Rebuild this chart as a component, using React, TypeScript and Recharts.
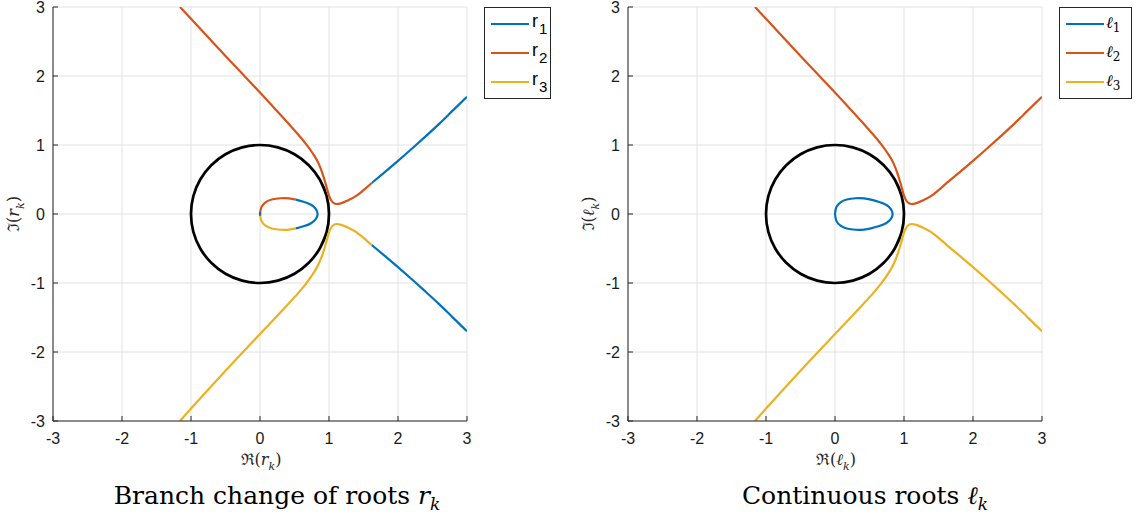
import React from 'react';
import { LineChart, Line, XAxis, YAxis, CartesianGrid } from 'recharts';

type P = { x: number; y: number };

const axisTicks = [-3, -2, -1, 0, 1, 2, 3];

// upper outer branch, left of the branch-change point
const upperArm: P[] = [
  { x: -1.16, y: 3.0 }, { x: -1.0, y: 2.83 }, { x: -0.5, y: 2.29 }, { x: 0, y: 1.76 },
  { x: 0.2, y: 1.545 }, { x: 0.4, y: 1.325 }, { x: 0.55, y: 1.155 }, { x: 0.67, y: 1.01 },
  { x: 0.77, y: 0.87 }, { x: 0.85, y: 0.73 }, { x: 0.91, y: 0.575 }, { x: 0.96, y: 0.41 },
  { x: 0.995, y: 0.28 }, { x: 1.03, y: 0.2 }, { x: 1.07, y: 0.158 }, { x: 1.11, y: 0.145 },
  { x: 1.18, y: 0.158 }, { x: 1.28, y: 0.2 }, { x: 1.4, y: 0.265 }, { x: 1.5, y: 0.345 },
  { x: 1.62, y: 0.45 },
];
// upper outer branch, right of the branch-change point
const upperTail: P[] = [
  { x: 1.62, y: 0.45 }, { x: 1.8, y: 0.6 }, { x: 2.0, y: 0.77 }, { x: 2.2, y: 0.945 },
  { x: 2.4, y: 1.125 }, { x: 2.6, y: 1.31 }, { x: 2.8, y: 1.505 }, { x: 3.0, y: 1.7 },
];
const lowerArm: P[] = [
  { x: -1.16, y: -3.0 }, { x: -1.0, y: -2.82 }, { x: -0.5, y: -2.27 }, { x: 0, y: -1.74 },
  { x: 0.2, y: -1.53 }, { x: 0.4, y: -1.315 }, { x: 0.55, y: -1.15 }, { x: 0.67, y: -1.005 },
  { x: 0.77, y: -0.865 }, { x: 0.85, y: -0.725 }, { x: 0.91, y: -0.575 }, { x: 0.96, y: -0.41 },
  { x: 0.995, y: -0.28 }, { x: 1.03, y: -0.2 }, { x: 1.07, y: -0.158 }, { x: 1.11, y: -0.145 },
  { x: 1.18, y: -0.158 }, { x: 1.28, y: -0.2 }, { x: 1.4, y: -0.265 }, { x: 1.5, y: -0.345 },
  { x: 1.62, y: -0.45 },
];
const lowerTail: P[] = [
  { x: 1.62, y: -0.45 }, { x: 1.8, y: -0.6 }, { x: 2.0, y: -0.77 }, { x: 2.2, y: -0.945 },
  { x: 2.4, y: -1.125 }, { x: 2.6, y: -1.31 }, { x: 2.8, y: -1.505 }, { x: 3.0, y: -1.7 },
];
// inner loop pieces
const loopTop: P[] = [
  { x: 0, y: 0 }, { x: 0.02, y: 0.1 }, { x: 0.08, y: 0.17 }, { x: 0.17, y: 0.21 },
  { x: 0.3, y: 0.228 }, { x: 0.42, y: 0.226 }, { x: 0.52, y: 0.208 },
];
const loopTip: P[] = [
  { x: 0.52, y: 0.208 }, { x: 0.63, y: 0.178 }, { x: 0.74, y: 0.133 }, { x: 0.81, y: 0.07 },
  { x: 0.835, y: 0 }, { x: 0.81, y: -0.07 }, { x: 0.74, y: -0.133 }, { x: 0.63, y: -0.178 },
  { x: 0.52, y: -0.208 },
];
const loopBottom: P[] = [
  { x: 0.52, y: -0.208 }, { x: 0.42, y: -0.226 }, { x: 0.3, y: -0.228 }, { x: 0.17, y: -0.21 },
  { x: 0.08, y: -0.17 }, { x: 0.02, y: -0.1 }, { x: 0, y: 0 },
];
const originBit: P[] = [{ x: 0.004, y: 0.025 }, { x: 0, y: 0 }, { x: 0.004, y: -0.025 }];

// unit circle, read at 15 degree steps (slightly overlapped)
const unitCircle: P[] = [
  { x: 0.866, y: -0.5 }, { x: 0.966, y: -0.259 }, { x: 1, y: 0 }, { x: 0.966, y: 0.259 },
  { x: 0.866, y: 0.5 }, { x: 0.707, y: 0.707 }, { x: 0.5, y: 0.866 }, { x: 0.259, y: 0.966 },
  { x: 0, y: 1 }, { x: -0.259, y: 0.966 }, { x: -0.5, y: 0.866 }, { x: -0.707, y: 0.707 },
  { x: -0.866, y: 0.5 }, { x: -0.966, y: 0.259 }, { x: -1, y: 0 }, { x: -0.966, y: -0.259 },
  { x: -0.866, y: -0.5 }, { x: -0.707, y: -0.707 }, { x: -0.5, y: -0.866 }, { x: -0.259, y: -0.966 },
  { x: 0, y: -1 }, { x: 0.259, y: -0.966 }, { x: 0.5, y: -0.866 }, { x: 0.707, y: -0.707 },
  { x: 0.866, y: -0.5 }, { x: 0.966, y: -0.259 }, { x: 1, y: 0 }, { x: 0.966, y: 0.259 },
  { x: 0.866, y: 0.5 },
];

const BLUE = '#0072BD';
const ORANGE = '#D95319';
const YELLOW = '#EDB120';
const AXIS = '#262626';
const SANS = '"Liberation Sans", Arial, Helvetica, sans-serif';
const SERIF = '"DejaVu Serif", "Liberation Serif", serif';

type Seg = { data: P[]; color: string; curve: 'monotone' | 'natural' };

const leftSegs: Seg[] = [
  { data: upperArm, color: ORANGE, curve: 'monotone' },
  { data: lowerArm, color: YELLOW, curve: 'monotone' },
  { data: upperTail, color: BLUE, curve: 'monotone' },
  { data: lowerTail, color: BLUE, curve: 'monotone' },
  { data: loopTop, color: ORANGE, curve: 'natural' },
  { data: loopBottom, color: YELLOW, curve: 'natural' },
  { data: loopTip, color: BLUE, curve: 'natural' },
  { data: originBit, color: BLUE, curve: 'natural' },
];

const rightSegs: Seg[] = [
  { data: [...loopTop, ...loopTip.slice(1), ...loopBottom.slice(1)], color: BLUE, curve: 'natural' },
  { data: [...upperArm, ...upperTail.slice(1)], color: ORANGE, curve: 'monotone' },
  { data: [...lowerArm, ...lowerTail.slice(1)], color: YELLOW, curve: 'monotone' },
];

const XTick = (props: any) => (
  <text x={props.x} y={props.y} dy={12} textAnchor="middle" fill="#1a1a1a" fontSize={16} fontFamily={SANS}>
    {props.payload.value}
  </text>
);
const YTick = (props: any) => (
  <text x={props.x} y={props.y} dy={6} textAnchor="end" fill="#1a1a1a" fontSize={16} fontFamily={SANS}>
    {props.payload.value}
  </text>
);
const NoTick = () => <g />;

function Panel({ left, segs }: { left: number; segs: Seg[] }) {
  return (
    <div style={{ position: 'absolute', left, top: 0 }}>
      <LineChart width={480} height={450} margin={{ top: 7, right: 13, bottom: 10, left: 0 }}>
        <CartesianGrid stroke="#e2e2e2" strokeWidth={1} />
        <XAxis
          type="number" dataKey="x" domain={[-3, 3]} ticks={axisTicks} allowDataOverflow
          height={19} tickSize={-5} tickMargin={16} stroke={AXIS} tick={XTick} interval={0}
        />
        <XAxis
          xAxisId="top" orientation="top" type="number" dataKey="x" domain={[-3, 3]} ticks={axisTicks}
          allowDataOverflow height={0} tickSize={-5} stroke={AXIS} tick={NoTick} interval={0}
        />
        <YAxis
          type="number" dataKey="y" domain={[-3, 3]} ticks={axisTicks} allowDataOverflow
          width={53} tickSize={-5} tickMargin={13} stroke={AXIS} tick={YTick} interval={0}
        />
        <YAxis
          yAxisId="right" orientation="right" type="number" domain={[-3, 3]} ticks={axisTicks}
          allowDataOverflow width={0} tickSize={-5} stroke={AXIS} tick={NoTick} interval={0}
        />
        <Line
          data={unitCircle} dataKey="y" type="natural" stroke="#000" strokeWidth={2.7}
          dot={false} activeDot={false} isAnimationActive={false} legendType="none"
        />
        {segs.map((s, i) => (
          <Line
            key={i} data={s.data} dataKey="y" type={s.curve} stroke={s.color} strokeWidth={2.2}
            dot={false} activeDot={false} isAnimationActive={false} legendType="none"
          />
        ))}
      </LineChart>
    </div>
  );
}

function abs(x: number, y: number, extra: React.CSSProperties = {}): React.CSSProperties {
  return {
    position: 'absolute', left: x, top: y, transform: 'translate(-50%, -50%)',
    whiteSpace: 'nowrap', lineHeight: 1, ...extra,
  };
}

const legendLabels = ['1', '2', '3'];
const legendColors = [BLUE, ORANGE, YELLOW];

function Legend({ left, width, sym, serif }: { left: number; width: number; sym: string; serif: boolean }) {
  return (
    <div style={{
      position: 'absolute', left, top: 7, width, height: 92, border: `1px solid ${AXIS}`,
      background: '#fff', boxSizing: 'border-box',
    }}>
      {legendLabels.map((n, i) => (
        <div key={n} style={{ position: 'absolute', left: 6, top: 16 + i * 29 - 12, height: 24, display: 'flex', alignItems: 'center' }}>
          <div style={{ width: 38, height: 2.2, background: legendColors[i] }} />
          {serif ? (
            <span style={{ marginLeft: 2, fontFamily: SERIF, fontSize: 16, color: '#000', fontStyle: 'italic', position: 'relative', top: -2 }}>
              {sym}
              <span style={{ fontSize: 12, fontStyle: 'normal', position: 'relative', top: 4 }}>{n}</span>
            </span>
          ) : (
            <span style={{ marginLeft: 3, fontFamily: SANS, fontSize: 18, color: '#000', position: 'relative', top: -3 }}>
              {sym}
              <span style={{ fontSize: 15, position: 'relative', top: 7, marginLeft: 1 }}>{n}</span>
            </span>
          )}
        </div>
      ))}
    </div>
  );
}

export default function App() {
  return (
    <div style={{ position: 'absolute', left: 0, top: 0, width: 1136, height: 522, background: '#fff', overflow: 'hidden' }}>
      <Panel left={0} segs={leftSegs} />
      <Panel left={575} segs={rightSegs} />

      <Legend left={484} width={67} sym="r" serif={false} />
      <Legend left={1059} width={73} sym="ℓ" serif={true} />

      <div style={abs(261, 462, { fontFamily: SERIF, fontSize: 16, color: AXIS })}>
        ℜ(<i>r</i><sub style={{ fontSize: 11 }}><i>k</i></sub>)
      </div>
      <div style={abs(836, 462, { fontFamily: SERIF, fontSize: 16, color: AXIS })}>
        ℜ(<i>ℓ</i><sub style={{ fontSize: 11 }}><i>k</i></sub>)
      </div>
      <div style={abs(16, 214, { fontFamily: SERIF, fontSize: 16, color: AXIS, transform: 'translate(-50%, -50%) rotate(-90deg)' })}>
        ℑ(<i>r</i><sub style={{ fontSize: 11 }}><i>k</i></sub>)
      </div>
      <div style={abs(591, 214, { fontFamily: SERIF, fontSize: 16, color: AXIS, transform: 'translate(-50%, -50%) rotate(-90deg)' })}>
        ℑ(<i>ℓ</i><sub style={{ fontSize: 11 }}><i>k</i></sub>)
      </div>

      <div style={abs(277, 498, { fontFamily: SERIF, fontSize: 25, color: '#000' })}>
        Branch change of roots <i>r</i><sub style={{ fontSize: 17 }}><i>k</i></sub>
      </div>
      <div style={abs(865, 498, { fontFamily: SERIF, fontSize: 25, color: '#000' })}>
        Continuous roots <i>ℓ</i><sub style={{ fontSize: 17 }}><i>k</i></sub>
      </div>
    </div>
  );
}
